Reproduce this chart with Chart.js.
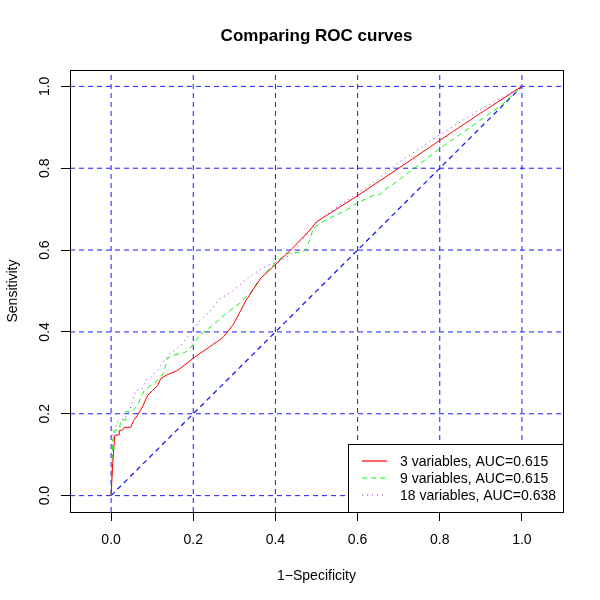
<!DOCTYPE html>
<html lang="en">
<head>
    <meta charset="UTF-8">
    <title>Comparing ROC curves</title>
    <script src="https://cdn.jsdelivr.net/npm/chart.js"></script>
    <style>
        body { margin: 0; background: #fff; }
        #wrap { width: 600px; height: 600px; }
    </style>
</head>
<body>
    <div id="wrap"><canvas id="rocChart" width="600" height="600"></canvas></div>

    <script>
        // tick positions on both axes
        const tickValues = [0, 0.2, 0.4, 0.6, 0.8, 1.0];

        // 3 variables (red, solid)
        const fpr3 = [0, 0.004, 0.009, 0.02, 0.02, 0.03, 0.032, 0.048, 0.055, 0.064, 0.076, 0.089, 0.101, 0.113, 0.121, 0.134, 0.162, 0.203, 0.239, 0.272, 0.298, 0.329, 0.364, 0.394, 0.435, 0.484, 0.5, 0.6, 0.7, 0.8, 0.9, 1];
        const tpr3 = [0, 0.078, 0.147, 0.149, 0.159, 0.161, 0.167, 0.167, 0.184, 0.196, 0.216, 0.245, 0.257, 0.269, 0.286, 0.294, 0.306, 0.338, 0.363, 0.386, 0.419, 0.478, 0.531, 0.559, 0.598, 0.649, 0.669, 0.733, 0.8, 0.868, 0.935, 1];

        // 9 variables (green, dashed)
        const fpr9 = [0, 0.004, 0.009, 0.02, 0.024, 0.036, 0.036, 0.055, 0.064, 0.073, 0.081, 0.093, 0.105, 0.117, 0.125, 0.134, 0.137, 0.15, 0.178, 0.19, 0.203, 0.215, 0.247, 0.28, 0.313, 0.341, 0.357, 0.378, 0.402, 0.427, 0.451, 0.471, 0.484, 0.492, 0.516, 0.573, 0.601, 0.638, 0.654, 0.663, 0.695, 0.8, 0.9, 0.955, 1];
        const tpr9 = [0, 0.135, 0.159, 0.162, 0.184, 0.185, 0.204, 0.21, 0.22, 0.241, 0.257, 0.267, 0.274, 0.286, 0.294, 0.322, 0.335, 0.343, 0.349, 0.357, 0.374, 0.392, 0.416, 0.445, 0.47, 0.498, 0.522, 0.547, 0.571, 0.592, 0.594, 0.598, 0.625, 0.653, 0.67, 0.698, 0.716, 0.733, 0.735, 0.745, 0.767, 0.848, 0.918, 0.958, 1];

        // 18 variables (purple, dotted)
        const fpr18 = [0, 0.005, 0.011, 0.015, 0.032, 0.044, 0.06, 0.076, 0.085, 0.097, 0.113, 0.121, 0.142, 0.166, 0.19, 0.215, 0.239, 0.264, 0.296, 0.337, 0.378, 0.41, 0.435, 0.5, 0.557, 0.63, 0.703, 0.801, 0.891, 1];
        const tpr18 = [0, 0.16, 0.167, 0.18, 0.188, 0.205, 0.257, 0.261, 0.282, 0.29, 0.305, 0.318, 0.347, 0.363, 0.392, 0.426, 0.449, 0.48, 0.5, 0.535, 0.562, 0.572, 0.587, 0.668, 0.71, 0.759, 0.816, 0.882, 0.939, 1];

        // chance line
        const chanceX = [0, 1];
        const chanceY = [0, 1];

        const legendLabels = ['3 variables, AUC=0.615', '9 variables, AUC=0.615', '18 variables, AUC=0.638'];

        const toPoints = (xs, ys) => xs.map((x, i) => ({ x: x, y: ys[i] }));
        const FONT = '"Liberation Sans", Arial, sans-serif';
        const GRID_BLUE = '#1a1aff';

        // dashed blue reference lines, not snapped to pixels (like R's abline)
        const rGrid = {
            id: 'rGrid',
            beforeDatasetsDraw(chart) {
                const ctx = chart.ctx;
                const a = chart.chartArea;
                const xs = chart.scales.x, ys = chart.scales.y;
                ctx.save();
                ctx.strokeStyle = GRID_BLUE;
                ctx.lineWidth = 1;
                ctx.setLineDash([5, 4]);
                tickValues.forEach(v => {
                    const px = xs.getPixelForValue(v);
                    ctx.beginPath();
                    ctx.moveTo(px, a.bottom);
                    ctx.lineTo(px, a.top);
                    ctx.stroke();
                    const py = ys.getPixelForValue(v);
                    ctx.beginPath();
                    ctx.moveTo(a.left, py);
                    ctx.lineTo(a.right, py);
                    ctx.stroke();
                });
                ctx.lineWidth = 1.3;
                ctx.beginPath();
                ctx.moveTo(xs.getPixelForValue(chanceX[0]), ys.getPixelForValue(chanceY[0]));
                ctx.lineTo(xs.getPixelForValue(chanceX[1]), ys.getPixelForValue(chanceY[1]));
                ctx.stroke();
                ctx.restore();
            }
        };

        // box, tick labels, titles and legend in R style
        const rStyle = {
            id: 'rStyle',
            afterDraw(chart) {
                const ctx = chart.ctx;
                const a = chart.chartArea;
                const xs = chart.scales.x, ys = chart.scales.y;
                ctx.save();
                ctx.strokeStyle = '#000';
                ctx.lineWidth = 1;
                ctx.setLineDash([]);
                ctx.strokeRect(Math.round(a.left) + 0.5, Math.round(a.top) + 0.5,
                    Math.round(a.right - a.left), Math.round(a.bottom - a.top));

                ctx.fillStyle = '#000';
                ctx.font = '14px ' + FONT;
                ctx.textAlign = 'center';
                ctx.textBaseline = 'alphabetic';
                tickValues.forEach(v => {
                    ctx.fillText(v.toFixed(1), xs.getPixelForValue(v), a.bottom + 32);
                });
                tickValues.forEach(v => {
                    ctx.save();
                    ctx.translate(a.left - 21, ys.getPixelForValue(v));
                    ctx.rotate(-Math.PI / 2);
                    ctx.fillText(v.toFixed(1), 0, 0);
                    ctx.restore();
                });

                // axis titles
                const cx = (a.left + a.right) / 2, cy = (a.top + a.bottom) / 2;
                ctx.fillText('1\u2212Specificity', cx, 580);
                ctx.save();
                ctx.translate(17, cy);
                ctx.rotate(-Math.PI / 2);
                ctx.fillText('Sensitivity', 0, 0);
                ctx.restore();

                ctx.font = 'bold 17px ' + FONT;
                ctx.fillText('Comparing ROC curves', cx, 41);

                // legend, bottom right inside the plot box
                const lw = 215, lh = 68;
                const lx = Math.round(a.right) - lw, ly = Math.round(a.bottom) - lh;
                ctx.fillStyle = '#fff';
                ctx.fillRect(lx, ly, lw, lh);
                ctx.strokeStyle = '#000';
                ctx.strokeRect(lx + 0.5, ly + 0.5, lw, lh);
                ctx.font = '14px ' + FONT;
                ctx.textAlign = 'left';
                ctx.textBaseline = 'middle';
                legendLabels.forEach((label, i) => {
                    const ds = chart.data.datasets[i];
                    const yy = ly + 17 + i * 17;
                    ctx.strokeStyle = ds.borderColor;
                    ctx.lineWidth = 1.2;
                    ctx.setLineDash(ds.borderDash || []);
                    ctx.beginPath();
                    ctx.moveTo(lx + 14, yy);
                    ctx.lineTo(lx + 39, yy);
                    ctx.stroke();
                    ctx.setLineDash([]);
                    ctx.fillStyle = '#000';
                    ctx.fillText(label, lx + 52, yy + 1);
                });
                ctx.restore();
            }
        };

        const fixedTicks = scale => { scale.ticks = tickValues.map(v => ({ value: v })); };

        const axis = (min, max) => ({
            type: 'linear',
            min: min,
            max: max,
            afterBuildTicks: fixedTicks,
            ticks: { display: false },
            grid: {
                drawOnChartArea: false,
                drawTicks: true,
                tickLength: 9,
                color: '#000',
                tickColor: '#000',
                tickBorderDash: [1, 0]
            },
            border: { display: false }
        });

        const ctx = document.getElementById('rocChart').getContext('2d');
        new Chart(ctx, {
            type: 'scatter',
            data: {
                datasets: [
                    {
                        label: legendLabels[0],
                        data: toPoints(fpr3, tpr3),
                        showLine: true,
                        borderColor: '#FF0000',
                        borderWidth: 1,
                        pointRadius: 0,
                        tension: 0
                    },
                    {
                        label: legendLabels[1],
                        data: toPoints(fpr9, tpr9),
                        showLine: true,
                        borderColor: '#00FF00',
                        borderWidth: 1,
                        borderDash: [5, 4],
                        pointRadius: 0,
                        tension: 0
                    },
                    {
                        label: legendLabels[2],
                        data: toPoints(fpr18, tpr18),
                        showLine: true,
                        borderColor: '#A020F0',
                        borderWidth: 1,
                        borderDash: [1, 4],
                        pointRadius: 0,
                        tension: 0
                    }
                ]
            },
            options: {
                responsive: false,
                animation: false,
                events: [],
                layout: { padding: { top: 70, right: 37, left: 0, bottom: 0 } },
                plugins: {
                    legend: { display: false },
                    tooltip: { enabled: false },
                    title: { display: false }
                },
                scales: {
                    x: Object.assign(axis(-0.1, 1.1), {
                        afterFit: s => { s.height = 88; }
                    }),
                    y: Object.assign(axis(-0.04, 1.04), {
                        afterFit: s => { s.width = 70; }
                    })
                }
            },
            plugins: [rGrid, rStyle]
        });
    </script>
</body>
</html>
